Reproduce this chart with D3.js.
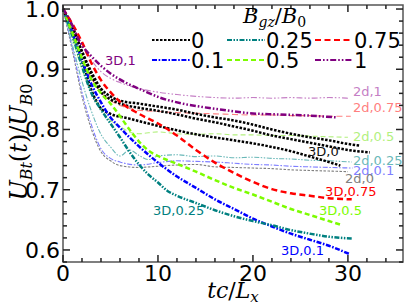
<!DOCTYPE html>
<html><head><meta charset="utf-8">
<script src="https://cdn.jsdelivr.net/npm/d3@7"></script>
<style>body{margin:0;background:#fff}svg{display:block}</style>
</head><body>
<svg id="c" width="407" height="305"></svg>
<script>
const xTicks = [0, 10, 20, 30];
const yTicks = [0.6, 0.7, 0.8, 0.9, 1.0];
const legendLabels = ["0", "0.1", "0.25", "0.5", "0.75", "1"];

// 3D runs: [t, U]
const d3_0a = [[0,1],[1,0.97],[2,0.93],[3,0.895],[4,0.868],[5,0.855],[6,0.848],[8,0.843],[10,0.838],[12,0.833],[14,0.826],[16,0.82],[18,0.815],[20,0.808],[22,0.8],[24,0.793],[26,0.787],[28,0.782],[30,0.776],[31.3,0.773]];
const d3_0b = [[0,1],[1,0.968],[2,0.928],[3,0.89],[4,0.862],[5,0.85],[6,0.843],[8,0.836],[10,0.831],[12,0.825],[14,0.818],[16,0.812],[18,0.805],[20,0.798],[22,0.79],[24,0.784],[26,0.778],[28,0.772],[30,0.766],[32.3,0.762]];
const d3_0c = [[0,1],[1,0.96],[2,0.915],[3,0.865],[4,0.835],[5,0.826],[7,0.818],[10,0.806],[14,0.792],[18,0.782],[20,0.777],[22,0.771],[24,0.764],[26,0.755],[28,0.746],[29.2,0.74]];
const d3_01 = [[0,1],[1,0.96],[2,0.915],[3,0.875],[4,0.845],[5,0.82],[6,0.803],[7,0.787],[8,0.772],[9,0.758],[10,0.745],[12,0.722],[14,0.703],[16,0.684],[18,0.668],[20,0.652],[22,0.639],[24,0.627],[26,0.617],[28,0.607],[30.2,0.593]];
const d3_025 = [[0,1],[1,0.955],[2,0.905],[3,0.86],[4,0.833],[5,0.81],[6,0.787],[7,0.763],[8,0.742],[9,0.725],[10,0.712],[11,0.698],[12,0.69],[14,0.678],[16,0.666],[18,0.656],[20,0.648],[22,0.641],[24,0.633],[26,0.627],[28,0.622],[30.4,0.619]];
const d3_05 = [[0,1],[1,0.96],[2,0.918],[3,0.883],[4,0.86],[5,0.843],[6,0.822],[7,0.8],[8,0.78],[9,0.765],[10,0.756],[12,0.743],[14,0.73],[16,0.716],[18,0.703],[20,0.692],[22,0.68],[24,0.668],[26,0.658],[28,0.648],[29.2,0.642]];
const d3_075 = [[0,1],[1,0.975],[2,0.945],[3,0.91],[4,0.882],[5,0.862],[6,0.846],[8,0.826],[10,0.81],[12,0.79],[14,0.766],[16,0.745],[18,0.728],[20,0.713],[22,0.701],[24,0.694],[26,0.69],[28,0.686],[30.4,0.684]];
const d3_1 = [[0,1],[0.7,0.982],[1.8,0.945],[3.2,0.918],[5,0.893],[6.7,0.877],[8.4,0.865],[10.2,0.853],[12.6,0.843],[16.2,0.834],[19.7,0.827],[22.6,0.825],[26,0.823],[28.9,0.82]];

// 2d runs
const d2_0 = [[0,1],[1,0.93],[2,0.855],[3,0.8],[4,0.763],[5,0.748],[6,0.74],[8,0.737],[10,0.739],[12,0.741],[14,0.742],[16,0.738],[18,0.737],[20,0.736],[22,0.735],[24,0.733],[26,0.732],[28,0.731],[30,0.73]];
const d2_01 = [[0,1],[1,0.935],[2,0.862],[3,0.807],[4,0.768],[5,0.752],[6,0.746],[8,0.741],[10,0.745],[12,0.748],[14,0.747],[16,0.746],[18,0.744],[20,0.742],[22,0.741],[24,0.739],[26,0.738],[28,0.737],[30.5,0.736]];
const d2_025 = [[0,1],[1,0.94],[2,0.88],[3,0.83],[4,0.792],[5,0.771],[6,0.756],[7,0.766],[8,0.757],[9,0.75],[10,0.756],[12,0.758],[14,0.755],[16,0.756],[18,0.753],[20,0.754],[22,0.752],[24,0.751],[26,0.749],[28,0.748],[30.4,0.746]];
const d2_05 = [[0,1],[1,0.95],[2,0.9],[3,0.862],[4,0.833],[5,0.815],[6,0.805],[7,0.796],[8,0.793],[10,0.796],[12,0.793],[14,0.792],[16,0.793],[18,0.791],[20,0.791],[22,0.79],[24,0.79],[26,0.789],[28,0.788],[30,0.787]];
const d2_075 = [[0,1],[1,0.955],[2,0.915],[3,0.885],[4,0.862],[5,0.848],[6,0.84],[7,0.835],[8,0.832],[10,0.83],[12,0.828],[14,0.827],[16,0.826],[18,0.825],[20,0.824],[22,0.824],[24,0.823],[26,0.823],[28,0.822],[30.3,0.822]];
const d2_1 = [[0,1],[1,0.97],[2,0.94],[3,0.915],[4,0.896],[5,0.885],[6,0.878],[8,0.868],[10,0.862],[12,0.858],[14,0.855],[16,0.853],[18,0.852],[20,0.853],[22,0.852],[24,0.853],[26,0.852],[28,0.853],[30,0.852]];

// annotation texts, anchored (left, vertical centre) at data coords
const annotations = [
  {text:"3D,1", t:4.42, v:0.915, c:"#800080"},
  {text:"2d,1", t:30.53, v:0.864, c:"#c57fc5"},
  {text:"2d,0.75", t:30.53, v:0.837, c:"#ff7f7f"},
  {text:"2d,0.5", t:30.53, v:0.789, c:"#b2f07e"},
  {text:"3D,0", t:25.8, v:0.763, c:"#111"},
  {text:"2d,0.25", t:30.53, v:0.748, c:"#6ab8b8"},
  {text:"2d,0.1", t:30.53, v:0.733, c:"#7f7fff"},
  {text:"2d,0", t:29.7, v:0.7195, c:"#808080"},
  {text:"3D,0.75", t:27.6, v:0.698, c:"#ff0000"},
  {text:"3D,0.5", t:26.95, v:0.665, c:"#7cfc00"},
  {text:"3D,0.25", t:9.48, v:0.666, c:"#008080"},
  {text:"3D,0.1", t:22.95, v:0.6, c:"#0000ff"}
];

const x = d3.scaleLinear().domain([0, 35.8]).range([63, 403]);
const y = d3.scaleLinear().domain([0.58, 1.0067]).range([262, 5]);
const svg = d3.select("#c");

const styles = {
  "0":   {c:"#000000", c2:"#808080", dash:"2.5,1.5"},
  "0.1": {c:"#0000ff", c2:"#7f7fff", dash:"5,1.6,1.6,1.6"},
  "0.25":{c:"#008080", c2:"#6ab8b8", dash:"5,1.5,1.5,1.5,1.5,1.5"},
  "0.5": {c:"#7cfc00", c2:"#b2f07e", dash:"5,3"},
  "0.75":{c:"#ff0000", c2:"#ff7f7f", dash:"6,3.5"},
  "1":   {c:"#800080", c2:"#c57fc5", dash:"6,2,1.6,2,1.6,2"}
};

const line = d3.line().x(d => x(d[0])).y(d => y(d[1])).curve(d3.curveMonotoneX);

const runs2d = [["0",d2_0],["0.1",d2_01],["0.25",d2_025],["0.5",d2_05],["0.75",d2_075],["1",d2_1]];
const runs3d = [["0",d3_0a],["0",d3_0b],["0",d3_0c],["0.1",d3_01],["0.25",d3_025],["0.5",d3_05],["0.75",d3_075],["1",d3_1]];

const g = svg.append("g");
runs2d.forEach(([k, d]) => {
  g.append("path").attr("d", line(d)).attr("fill","none")
   .attr("stroke", styles[k].c2).attr("stroke-width", 1.1)
   .attr("stroke-dasharray", styles[k].dash);
});
runs3d.forEach(([k, d]) => {
  g.append("path").attr("d", line(d)).attr("fill","none")
   .attr("stroke", styles[k].c).attr("stroke-width", 2.5)
   .attr("stroke-dasharray", styles[k].dash);
});

annotations.forEach(a => {
  svg.append("text").attr("x", x(a.t)).attr("y", y(a.v)).attr("dy", "0.36em")
    .attr("font-family","DejaVu Sans").attr("font-size", 13)
    .attr("fill", a.c).text(a.text);
});

// frame
const [x0, x1] = x.range(), y0 = y(0.58), y1 = y(1.0067);
svg.append("rect").attr("x", x0).attr("y", y1).attr("width", x1 - x0).attr("height", y0 - y1)
  .attr("fill","none").attr("stroke","#555").attr("stroke-width",1.5);

// ticks (inward, all sides)
const tk = svg.append("g").attr("stroke","#222").attr("stroke-width",1.5);
d3.range(0, 36, 2).forEach(t => {
  const L = (t % 10 === 0) ? 7 : 4;
  tk.append("line").attr("x1", x(t)).attr("x2", x(t)).attr("y1", y0).attr("y2", y0 - L);
  tk.append("line").attr("x1", x(t)).attr("x2", x(t)).attr("y1", y1).attr("y2", y1 + L);
});
d3.range(29, 51, 1).map(v => v / 50).forEach(v => {
  const major = Math.abs(v * 10 - Math.round(v * 10)) < 1e-6;
  const L = major ? 7 : 4;
  tk.append("line").attr("x1", x0).attr("x2", x0 + L).attr("y1", y(v)).attr("y2", y(v));
  tk.append("line").attr("x1", x1).attr("x2", x1 - L).attr("y1", y(v)).attr("y2", y(v));
});

const tf = {"font-family":"DejaVu Sans","font-size":22,"fill":"#000"};
xTicks.forEach(t => {
  const tx = svg.append("text").attr("x", x(t)).attr("y", 281).attr("text-anchor","middle").text(t);
  Object.entries(tf).forEach(([k,v]) => tx.attr(k,v));
});
yTicks.forEach(v => {
  const tx = svg.append("text").attr("x", 60).attr("y", y(v) + 8).attr("text-anchor","end").text(v.toFixed(1));
  Object.entries(tf).forEach(([k,v2]) => tx.attr(k,v2));
});

// axis labels
const mf = "DejaVu Serif";
const xl = svg.append("text").attr("x", 233).attr("y", 298).attr("text-anchor","middle")
  .attr("font-family", mf).attr("font-size", 22).attr("font-style","italic");
xl.append("tspan").text("tc");
xl.append("tspan").attr("font-style","normal").text("/");
xl.append("tspan").text("L");
xl.append("tspan").attr("font-size", 15).attr("dy", 4).text("x");

const yl = svg.append("text").attr("transform","translate(27,142) rotate(-90)").attr("text-anchor","middle")
  .attr("font-family", mf).attr("font-size", 24).attr("font-style","italic");
yl.append("tspan").text("U");
yl.append("tspan").attr("font-size", 16).attr("dy", 5).text("Bt");
yl.append("tspan").attr("font-style","normal").attr("dy", -5).text("(");
yl.append("tspan").text("t");
yl.append("tspan").attr("font-style","normal").text(")/");
yl.append("tspan").text("U");
yl.append("tspan").attr("font-size", 16).attr("dy", 5).text("B");
yl.append("tspan").attr("font-size", 16).attr("font-style","normal").text("0");

// legend
const lt = svg.append("text").attr("x", 243).attr("y", 23)
  .attr("font-family", mf).attr("font-size", 21).attr("font-style","italic");
lt.append("tspan").text("B");
lt.append("tspan").attr("font-size", 14).attr("dy", 4).text("gz");
lt.append("tspan").attr("font-style","normal").attr("dy", -4).text("/");
lt.append("tspan").text("B");
lt.append("tspan").attr("font-size", 14).attr("font-style","normal").attr("dy", 4).text("0");

const colX = [152, 227, 315];
const rowY = [40, 60];
legendLabels.forEach((k, i) => {
  const col = Math.floor(i / 2), row = i % 2;
  const lx = colX[col], ly = rowY[row];
  svg.append("line").attr("x1", lx).attr("x2", lx + 38).attr("y1", ly).attr("y2", ly)
    .attr("stroke", styles[k].c).attr("stroke-width", 2).attr("stroke-dasharray", styles[k].dash);
  svg.append("text").attr("x", lx + 39).attr("y", ly + 7.8)
    .attr("font-family","DejaVu Sans").attr("font-size", 21).text(k);
});
</script>
</body></html>
